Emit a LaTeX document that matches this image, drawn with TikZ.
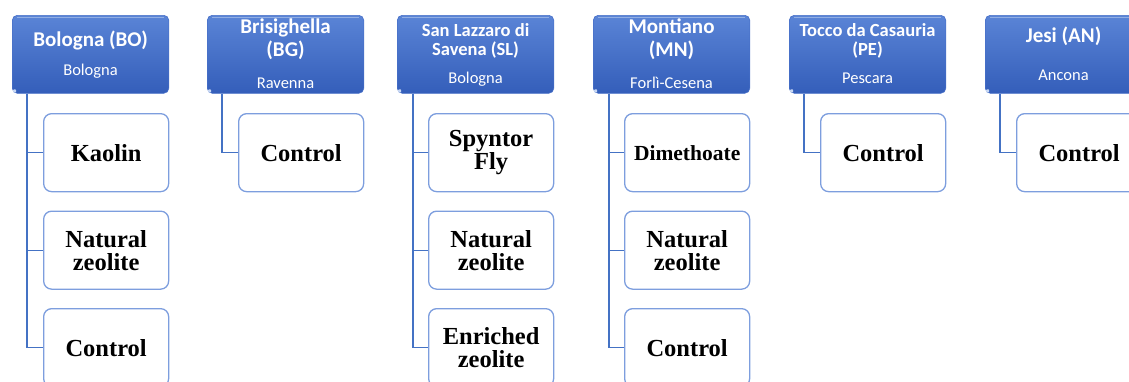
\documentclass[tikz,border=0pt]{standalone}
\usepackage{fontspec}
\setmainfont{Liberation Serif}
\newfontfamily\hdfont{Carlito}
\usetikzlibrary{calc}
\definecolor{hdtop}{RGB}{90,132,214}
\definecolor{hdbot}{RGB}{52,94,186}
\definecolor{hdedge}{RGB}{72,112,200}
\definecolor{conncol}{RGB}{68,114,196}
\definecolor{cedge}{RGB}{125,158,222}
\definecolor{cornerdot}{RGB}{200,216,244}
\begin{document}
\begin{tikzpicture}[x=1pt,y=-1pt,
  header/.style={draw=hdedge, line width=0.6pt, rounded corners=5pt, top color=hdtop, bottom color=hdbot,
    minimum width=156.5pt, minimum height=78pt, anchor=north west, inner sep=0pt},
  childbox/.style={draw=cedge, line width=1.3pt, fill=white, rounded corners=8pt,
    minimum width=125pt, minimum height=78pt, text width=118pt, align=center,
    font=\fontsize{24.5}{23}\selectfont\bfseries, anchor=north west, inner sep=0pt},
  link/.style={draw=conncol, line width=1.3pt},
  gloss/.style={draw=white, opacity=0.35, line width=1.5pt},
  ttl/.style={text=white, font=\hdfont\bfseries\fontsize{21}{21}\selectfont, anchor=base, inner sep=0pt},
  ttls/.style={text=white, font=\hdfont\bfseries\fontsize{18.5}{18.5}\selectfont, anchor=base, inner sep=0pt},
  sub/.style={text=white, font=\hdfont\fontsize{16.5}{16.5}\selectfont, anchor=base, inner sep=0pt},
  dot/.style={fill=cornerdot, draw=none, rounded corners=0.8pt, minimum size=3pt, inner sep=0pt, anchor=south west}
]
\useasboundingbox (0,0) rectangle (1129,381);
\clip (0,0) rectangle (1129,381);

% headers
\node[header] (hBO) at (12,15) {};
\node[header] (hBG) at (207,15) {};
\node[header] (hSL) at (397,15) {};
\node[header] (hMN) at (593,15) {};
\node[header] (hPE) at (789,15) {};
\node[header] (hAN) at (985,15) {};

\foreach \h in {hBO,hBG,hSL,hMN,hPE,hAN}{
  \draw[gloss] ($(\h.north west)+(5,2.5)$) -- ($(\h.north east)+(-5,2.5)$);
}

% header texts
\node[ttl] (tBO) at ($(hBO.north)+(0,31.5)$) {Bologna (BO)};
\node[sub] (sBO) at ($(hBO.north)+(0,60)$) {Bologna};

\node[ttl] (tBGa) at ($(hBG.north)+(0,18.5)$) {Brisighella};
\node[ttl] (tBGb) at ($(hBG.north)+(0,41.5)$) {(BG)};
\node[sub] (sBG) at ($(hBG.north)+(0,73.5)$) {Ravenna};

\node[ttls] (tSLa) at ($(hSL.north)+(0,21)$) {San Lazzaro di};
\node[ttls] (tSLb) at ($(hSL.north)+(0,40)$) {Savena (SL)};
\node[sub] (sSL) at ($(hSL.north)+(0,68.5)$) {Bologna};

\node[ttl] (tMNa) at ($(hMN.north)+(0,18.5)$) {Montiano};
\node[ttl] (tMNb) at ($(hMN.north)+(0,41.5)$) {(MN)};
\node[sub] (sMN) at ($(hMN.north)+(0,73.5)$) {Forlì-Cesena};

\node[ttls] (tPEa) at ($(hPE.north)+(0,21.5)$) {Tocco da Casauria};
\node[ttls] (tPEb) at ($(hPE.north)+(0,40.5)$) {(PE)};
\node[sub] (sPE) at ($(hPE.north)+(0,68.5)$) {Pescara};

\node[ttl] (tAN) at ($(hAN.north)+(0,27.5)$) {Jesi (AN)};
\node[sub] (sAN) at ($(hAN.north)+(0,65)$) {Ancona};

% children
\node[childbox] (cBO1) at (43,113) {Kaolin};
\node[childbox] (cBO2) at (43,210.5) {Natural\\zeolite};
\node[childbox] (cBO3) at (43,308) {Control};

\node[childbox] (cBG1) at (238,113) {Control};

\node[childbox] (cSL1) at (428,113) {Spyntor\\Fly};
\node[childbox] (cSL2) at (428,210.5) {Natural\\zeolite};
\node[childbox] (cSL3) at (428,308) {Enriched\\zeolite};

\node[childbox, font=\fontsize{21.5}{21.5}\selectfont\bfseries] (cMN1) at (624,113) {Dimethoate};
\node[childbox] (cMN2) at (624,210.5) {Natural\\zeolite};
\node[childbox] (cMN3) at (624,308) {Control};

\node[childbox] (cPE1) at (820,113) {Control};

\node[childbox] (cAN1) at (1016,113) {Control};

% connectors
\draw[link] ($(hBO.south west)+(15,0)$) |- (cBO1.west);
\draw[link] ($(hBO.south west)+(15,0)$) |- (cBO2.west);
\draw[link] ($(hBO.south west)+(15,0)$) |- (cBO3.west);
\draw[link] ($(hBG.south west)+(15,0)$) |- (cBG1.west);
\draw[link] ($(hSL.south west)+(16,0)$) |- (cSL1.west);
\draw[link] ($(hSL.south west)+(16,0)$) |- (cSL2.west);
\draw[link] ($(hSL.south west)+(16,0)$) |- (cSL3.west);
\draw[link] ($(hMN.south west)+(16,0)$) |- (cMN1.west);
\draw[link] ($(hMN.south west)+(16,0)$) |- (cMN2.west);
\draw[link] ($(hMN.south west)+(16,0)$) |- (cMN3.west);
\draw[link] ($(hPE.south west)+(15,0)$) |- (cPE1.west);
\draw[link] ($(hAN.south west)+(15,0)$) |- (cAN1.west);

% small corner marks
\foreach \h in {hBO,hBG,hSL,hMN,hPE,hAN}{
  \node[dot] at ($(\h.south west)+(1,-1)$) {};
}
\end{tikzpicture}
\end{document}
